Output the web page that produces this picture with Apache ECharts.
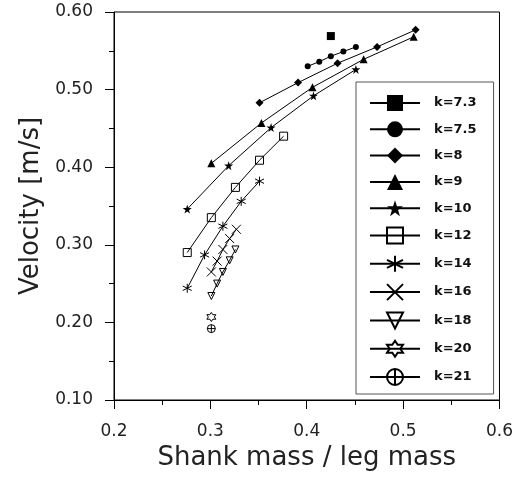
<!DOCTYPE html>
<html>
<head>
<meta charset="UTF-8">
<title>Velocity vs shank mass</title>
<script src="https://cdn.jsdelivr.net/npm/echarts@6/dist/echarts.min.js"></script>
<style>
  html, body { margin: 0; padding: 0; background: #fff; }
  #chart { width: 516px; height: 478px; }
</style>
</head>
<body>
<div id="chart"></div>
<script type="text/javascript">

  // values
  var k73X = [0.425], k73Y = [0.569];
  var k75X = [0.401, 0.413, 0.425, 0.438, 0.451], k75Y = [0.530, 0.536, 0.543, 0.549, 0.555];
  var k8X  = [0.351, 0.391, 0.432, 0.473, 0.513], k8Y  = [0.483, 0.509, 0.534, 0.555, 0.577];
  var k9X  = [0.301, 0.353, 0.406, 0.459, 0.511], k9Y  = [0.405, 0.457, 0.503, 0.539, 0.568];
  var k10X = [0.276, 0.319, 0.363, 0.407, 0.451], k10Y = [0.346, 0.402, 0.451, 0.492, 0.526];
  var k12X = [0.276, 0.301, 0.326, 0.351, 0.376], k12Y = [0.290, 0.335, 0.374, 0.409, 0.440];
  var k14X = [0.276, 0.294, 0.313, 0.332, 0.351], k14Y = [0.244, 0.287, 0.324, 0.356, 0.382];
  var k16X = [0.301, 0.307, 0.313, 0.320, 0.327], k16Y = [0.265, 0.279, 0.294, 0.308, 0.320];
  var k18X = [0.301, 0.307, 0.313, 0.320, 0.326], k18Y = [0.234, 0.250, 0.265, 0.280, 0.294];
  var k20X = [0.301], k20Y = [0.207];
  var k21X = [0.301], k21Y = [0.192];

  var names = ['k=7.3', 'k=7.5', 'k=8', 'k=9', 'k=10', 'k=12', 'k=14', 'k=16', 'k=18', 'k=20', 'k=21'];
  var xTicks = [0.2, 0.3, 0.4, 0.5, 0.6];
  var yTicks = [0.1, 0.2, 0.3, 0.4, 0.5, 0.6];

  // marker shapes
  var STAR = 'path://M10,0 L12.25,6.91 L19.51,6.91 L13.63,11.18 L15.88,18.09 L10,13.82 L4.12,18.09 L6.37,11.18 L0.49,6.91 L7.75,6.91 Z';
  var ASTER = 'path://M10,0 L10,20 M1.34,5 L18.66,15 M1.34,15 L18.66,5';
  var CROSS = 'path://M0,0 L20,20 M0,20 L20,0';
  var TRI_DOWN = 'path://M0,0 L20,0 L10,17.3 Z';
  var HEXA = 'path://M10,0 L12.89,5 L18.66,5 L15.77,10 L18.66,15 L12.89,15 L10,20 L7.11,15 L1.34,15 L4.23,10 L1.34,5 L7.11,5 Z';
  var OPLUS = 'path://M0,10 A10,10 0 1,1 20,10 A10,10 0 1,1 0,10 Z M0,10 L20,10 M10,0 L10,20';

  function pairs(xs, ys) {
    var out = [];
    for (var i = 0; i < xs.length; i++) out.push([xs[i], ys[i]]);
    return out;
  }

  function mk(name, xs, ys, symbol, size, hollow) {
    return {
      name: name,
      type: 'line',
      data: pairs(xs, ys),
      symbol: symbol,
      symbolSize: size,
      showSymbol: true,
      lineStyle: { color: '#000', width: 1 },
      itemStyle: hollow
        ? { color: 'rgba(0,0,0,0)', borderColor: '#000', borderWidth: 1 }
        : { color: '#000', borderWidth: 0 },
      emphasis: { disabled: true }
    };
  }

  var series = [
    mk(names[0], k73X, k73Y, 'rect', 8, false),
    mk(names[1], k75X, k75Y, 'circle', 6, false),
    mk(names[2], k8X, k8Y, 'diamond', 8, false),
    mk(names[3], k9X, k9Y, 'triangle', 8, false),
    mk(names[4], k10X, k10Y, STAR, 9, false),
    mk(names[5], k12X, k12Y, 'rect', 8, true),
    mk(names[6], k14X, k14Y, ASTER, 9, true),
    mk(names[7], k16X, k16Y, CROSS, 9, true),
    mk(names[8], k18X, k18Y, TRI_DOWN, 7, true),
    mk(names[9], k20X, k20Y, HEXA, 9, true),
    mk(names[10], k21X, k21Y, OPLUS, 8, true)
  ];

  var myChart = echarts.init(document.getElementById('chart'));

  var option = {
    animation: false,
    backgroundColor: '#fff',
    grid: {
      left: 114, right: 14, top: 12, bottom: 78,
      show: true, borderColor: '#000', borderWidth: 1, backgroundColor: 'transparent'
    },
    legend: {
      orient: 'vertical',
      left: 356, top: 82,
      data: names,
      itemWidth: 50,
      itemHeight: 20,
      itemGap: 10.3,
      padding: [13, 17, 8, 13],
      borderColor: '#555',
      borderWidth: 1,
      backgroundColor: '#fff',
      selectedMode: false,
      textStyle: { fontFamily: 'DejaVu Sans', fontWeight: 'bold', fontSize: 13, color: '#111', padding: [0, 0, 0, 9] }
    },
    xAxis: {
      type: 'value',
      min: xTicks[0], max: xTicks[xTicks.length - 1], interval: 0.1,
      name: 'Shank mass / leg mass',
      nameLocation: 'middle',
      nameGap: 44,
      nameTextStyle: { fontFamily: 'DejaVu Sans', fontSize: 26, color: '#222' },
      axisLine: { lineStyle: { color: '#000', width: 1 } },
      axisTick: { inside: false, length: 9, lineStyle: { color: '#000' } },
      minorTick: { show: true, splitNumber: 2, length: 5, lineStyle: { color: '#000' } },
      splitLine: { show: false },
      axisLabel: {
        margin: 23, fontFamily: 'DejaVu Sans', fontSize: 17, color: '#222',
        formatter: function (v) { return v.toFixed(1); }
      }
    },
    yAxis: {
      type: 'value',
      min: yTicks[0], max: yTicks[yTicks.length - 1], interval: 0.1,
      name: 'Velocity [m/s]',
      nameLocation: 'middle',
      nameGap: 68,
      nameTextStyle: { fontFamily: 'DejaVu Sans', fontSize: 26, color: '#222' },
      axisLine: { show: true, lineStyle: { color: '#000', width: 1 } },
      axisTick: { show: true, inside: false, length: 9, lineStyle: { color: '#000' } },
      minorTick: { show: true, splitNumber: 2, length: 5, lineStyle: { color: '#000' } },
      splitLine: { show: false },
      axisLabel: {
        margin: 21, fontFamily: 'DejaVu Sans', fontSize: 17, color: '#222',
        formatter: function (v) { return v.toFixed(2); }
      }
    },
    series: series
  };

  myChart.setOption(option);

</script>
</body>
</html>
